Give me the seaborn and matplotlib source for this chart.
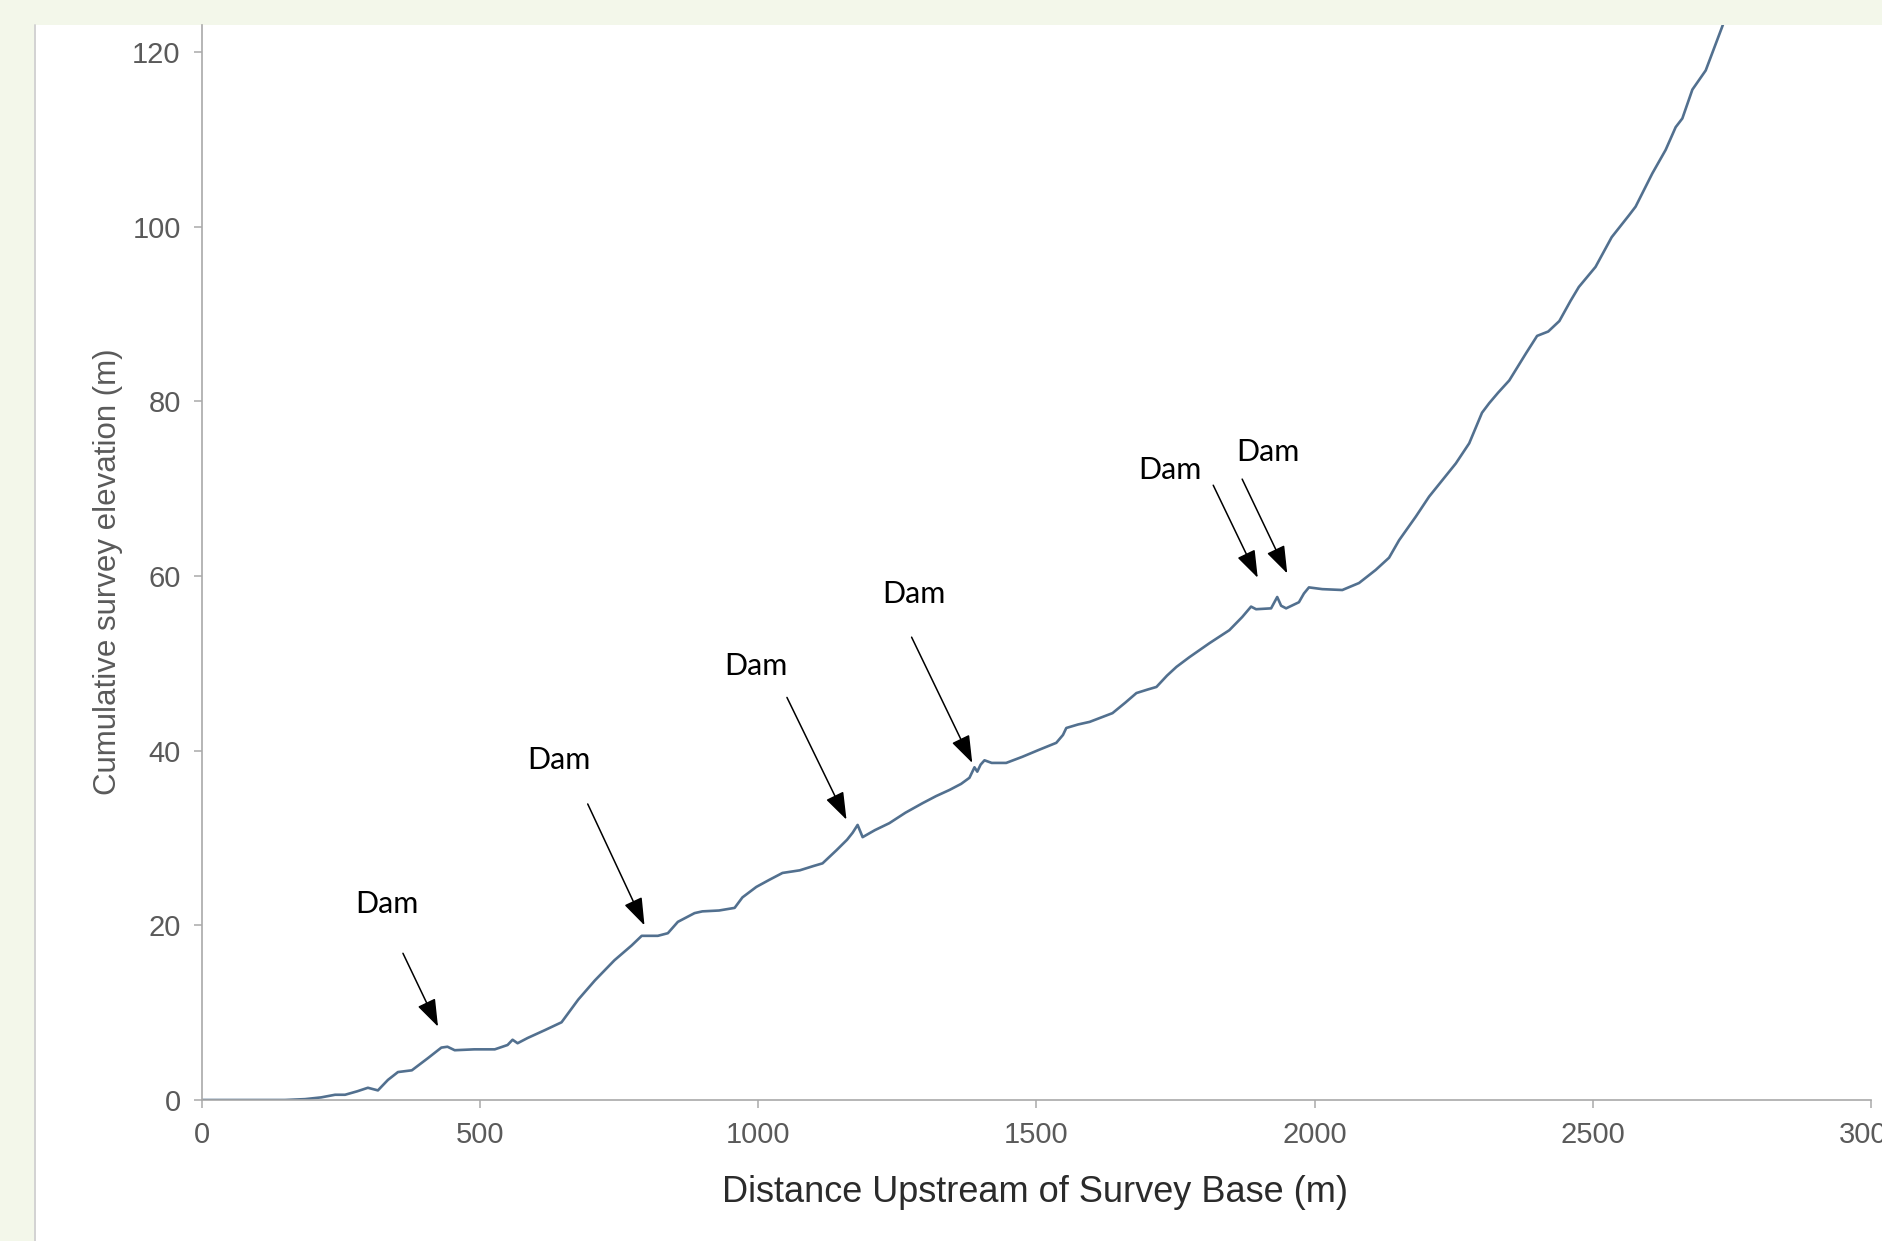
import matplotlib
matplotlib.use("Agg")
import matplotlib.pyplot as plt
from matplotlib import font_manager
from matplotlib.patches import Rectangle
from matplotlib.lines import Line2D
import pandas as pd
import seaborn as sns

# Longitudinal stream profile: distance upstream of the survey base (m)
distance_m = [
    0, 60, 126, 150, 186, 215, 240, 258, 280, 299, 317, 335, 353, 378, 407,
    431, 442, 455, 490, 527, 550, 559, 568, 586, 617, 647, 677, 707, 742, 773,
    791, 820, 838, 856, 886, 900, 930, 958, 972, 997, 1020, 1044, 1075, 1100,
    1116, 1141, 1160, 1170, 1179, 1188, 1210, 1236, 1265, 1296, 1320, 1344,
    1365, 1380, 1389, 1394, 1400, 1407, 1420, 1446, 1475, 1505, 1536, 1548,
    1554, 1575, 1596, 1637, 1660, 1680, 1700, 1716, 1735, 1752, 1775, 1793,
    1811, 1847, 1870, 1886, 1895, 1922, 1933, 1940, 1949, 1972, 1981, 1990,
    2014, 2050, 2080, 2110, 2134, 2152, 2182, 2206, 2230, 2254, 2278, 2301,
    2314, 2330, 2350, 2380, 2400, 2420, 2440, 2460, 2475, 2505, 2534, 2565,
    2577, 2607, 2631, 2649, 2661, 2679, 2703, 2732, 2750,
]
# Cumulative surveyed bed elevation at each station (m)
elevation_m = [
    0.0, 0.0, 0.0, 0.0, 0.1, 0.3, 0.6, 0.6, 1.0, 1.4, 1.1, 2.3, 3.2, 3.4, 4.8,
    6.0, 6.1, 5.7, 5.8, 5.8, 6.3, 6.9, 6.5, 7.1, 8.0, 8.9, 11.5, 13.7, 16.0, 17.7,
    18.8, 18.8, 19.1, 20.4, 21.4, 21.6, 21.7, 22.0, 23.2, 24.4, 25.2, 26.0, 26.3, 26.8,
    27.1, 28.6, 29.8, 30.6, 31.5, 30.1, 30.9, 31.7, 32.9, 34.0, 34.8, 35.5,
    36.2, 36.9, 38.1, 37.6, 38.4, 38.9, 38.6, 38.6, 39.3, 40.1, 40.9, 41.8,
    42.6, 43.0, 43.3, 44.3, 45.5, 46.6, 47.0, 47.3, 48.6, 49.6, 50.7, 51.5,
    52.3, 53.8, 55.3, 56.5, 56.2, 56.3, 57.6, 56.6, 56.3, 57.0, 58.0, 58.7,
    58.5, 58.4, 59.2, 60.7, 62.1, 64.1, 66.8, 69.1, 71.0, 72.9, 75.2, 78.7,
    79.8, 81.0, 82.4, 85.5, 87.5, 88.0, 89.2, 91.5, 93.1, 95.4, 98.8, 101.3,
    102.3, 106.1, 108.8, 111.4, 112.4, 115.7, 117.9, 122.8, 126.0,
]

x_ticks = [0, 500, 1000, 1500, 2000, 2500, 3000]
y_ticks = [0, 20, 40, 60, 80, 100, 120]

x_title = "Distance Upstream of Survey Base (m)"
y_title = "Cumulative survey elevation (m)"
dam_label = "Dam"

# Dam annotations: label centre, arrow tail and arrow head (data coordinates)
dam_notes = [
    ((333, 22.4), (362, 16.8), (425, 8.4)),
    ((642, 38.9), (694, 33.9), (796, 20.0)),
    ((997, 49.7), (1052, 46.1), (1159, 32.1)),
    ((1280, 57.9), (1276, 53.0), (1385, 38.6)),
    ((1741, 72.1), (1818, 70.4), (1898, 59.8)),
    ((1917, 74.2), (1870, 71.1), (1951, 60.3)),
]

profile = pd.DataFrame({"distance": distance_m, "elevation": elevation_m})

sns.set_theme(style="ticks")
plt.rcParams["font.family"] = ["Liberation Sans", "DejaVu Sans"]

installed = {f.name for f in font_manager.fontManager.ttflist}
if "Liberation Sans Narrow" in installed:
    tick_family, tick_size = "Liberation Sans Narrow", 23
else:
    tick_family, tick_size = "Liberation Sans", 21

W, H = 1882, 1241
fig = plt.figure(figsize=(W / 100, H / 100), dpi=100, facecolor="#f3f7ea")

# white page panel with a thin grey left border, kept behind the axes
fig.patches.append(Rectangle((34 / W, 0), 1 - 34 / W, (H - 25) / H,
                             transform=fig.transFigure, facecolor="white",
                             edgecolor="none", zorder=-10))
fig.lines.append(Line2D([34.5 / W, 34.5 / W], [0, (H - 25) / H],
                        transform=fig.transFigure, color="#d2d2d2", lw=1.4,
                        zorder=-9))

left, right, bottom_px, top_px = 201.5, 1871, 1100, 25
ax = fig.add_axes([left / W, (H - bottom_px) / H, (right - left) / W,
                   (bottom_px - top_px) / H])
ax.set_facecolor("none")
ax.set_zorder(1)

sns.lineplot(data=profile, x="distance", y="elevation", ax=ax,
             color="#52708f", linewidth=1.9, estimator=None, sort=False)

ax.set_xlim(0, 3000)
ax.set_ylim(0, 123.1)
ax.set_xticks(x_ticks)
ax.set_yticks(y_ticks)

for side in ("top", "right"):
    ax.spines[side].set_visible(False)
for side in ("left", "bottom"):
    ax.spines[side].set_color("#a9a9a9")
    ax.spines[side].set_linewidth(1.2)

ax.tick_params(axis="both", direction="out", length=6, width=1.1,
               color="#a9a9a9", labelcolor="#5a5a5a", labelsize=tick_size, pad=9)
for lab in ax.get_xticklabels() + ax.get_yticklabels():
    lab.set_family(tick_family)

ax.set_xlabel(x_title, fontsize=26, color="#2b2b2b")
ax.xaxis.set_label_coords(0.4993, -0.0856)
ax.xaxis.label.set_va("center")

ax.set_ylabel(y_title, fontsize=22.5, color="#5a5a5a")
ax.yaxis.set_label_coords(-0.056, 0.491)
ax.yaxis.label.set_va("center")

for (tx, ty), tail, head in dam_notes:
    ax.text(tx, ty, dam_label, ha="center", va="center", fontsize=22,
            family=["Lato", "DejaVu Sans"], color="black", zorder=5)
    ax.annotate("", xy=head, xytext=tail,
                arrowprops=dict(arrowstyle="-|>,head_length=0.85,head_width=0.3",
                                color="black", lw=1.1, shrinkA=0, shrinkB=0,
                                mutation_scale=20),
                zorder=5)

fig.savefig("out.png", dpi=100, facecolor=fig.get_facecolor())
